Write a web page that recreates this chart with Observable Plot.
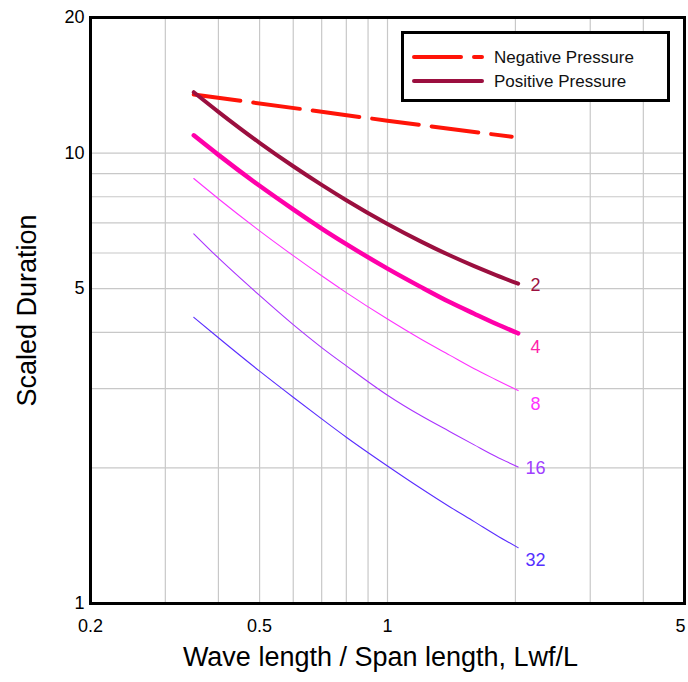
<!DOCTYPE html>
<html><head><meta charset="utf-8">
<script src="https://cdn.jsdelivr.net/npm/d3@7"></script>
<script src="https://cdn.jsdelivr.net/npm/@observablehq/plot@0.6"></script>
<style>
body{margin:0;background:#fff;font-family:"Liberation Sans",Arial,sans-serif;}
#wrap{position:relative;width:688px;height:682px;}
#legend{position:absolute;left:401px;top:31px;width:263px;height:65px;border:3px solid #000;background:#fff;}
#legend svg{display:block}
</style></head><body><div id="wrap"></div>
<script>
// x values along each curve (Lwf/L)
const xs = [0.35, 0.4, 0.5, 0.6, 0.7, 0.8, 1.0, 1.2, 1.4, 1.6, 1.8, 2.03];
// Positive pressure curves, scaled duration, labelled by ratio
const pos2  = [13.65, 12.35, 10.54, 9.35, 8.50, 7.86, 6.96, 6.36, 5.93, 5.61, 5.36, 5.13];
const pos4  = [10.95, 9.91, 8.46, 7.50, 6.80, 6.28, 5.54, 5.04, 4.67, 4.40, 4.18, 3.98];
const pos8  = [8.78, 7.92, 6.72, 5.92, 5.34, 4.90, 4.28, 3.86, 3.56, 3.32, 3.14, 2.97];
const pos16 = [6.62, 5.85, 4.83, 4.16, 3.70, 3.37, 2.90, 2.61, 2.41, 2.25, 2.12, 2.01];
const pos32 = [4.32, 3.89, 3.28, 2.87, 2.57, 2.34, 2.02, 1.80, 1.64, 1.52, 1.42, 1.33];
// Negative pressure
const negX = [0.35, 1.0, 1.96];
const negY = [13.49, 11.8, 10.87];
// Curve end labels
const curveNames = ["2", "4", "8", "16", "32"];
const labelX = 2.23;
const labelY = [5.1, 3.7, 2.77, 2.0, 1.25];
// Axis ticks and grid
const xTicks = [0.2, 0.5, 1];
const xTickLast = [5];
const yTicks = [1, 5, 10, 20];
const xGrid = [0.3, 0.4, 0.5, 0.6, 0.7, 0.8, 0.9, 1, 2, 3, 4];
const yGrid = [2, 3, 4, 5, 6, 7, 8, 9, 10];

const series = [pos2, pos4, pos8, pos16, pos32];
const colors = ["#9b0f3f", "#ff00aa", "#ff33ff", "#aa33ff", "#5a2dff"];
const labelColors = ["#9b1040", "#ff22aa", "#ff33ff", "#a040ff", "#5530ff"];
const widths = [4, 4.5, 1.1, 1.1, 1.1];

const toRows = (ys) => xs.map((x, i) => ({x, y: ys[i]}));
const negRows = negX.map((x, i) => ({x, y: negY[i]}));
const labelRows = curveNames.map((t, i) => ({x: labelX, y: labelY[i], t, c: labelColors[i]}));

const font = "'Liberation Sans', Arial, sans-serif";

const marks = [
  Plot.ruleX(xGrid, {stroke: "#c8c8c8", strokeWidth: 1.2}),
  Plot.ruleY(yGrid, {stroke: "#c8c8c8", strokeWidth: 1.2}),
  Plot.line(negRows, {x: "x", y: "y", stroke: "#ff1408", strokeWidth: 4, strokeDasharray: "47,13"}),
  ...series.slice().reverse().map((s, k) => {
    const i = series.length - 1 - k;
    return Plot.line(toRows(s), {x: "x", y: "y", stroke: colors[i], strokeWidth: widths[i], curve: "monotone-x", strokeLinecap: "round"});
  }),
  Plot.text(labelRows, {x: "x", y: "y", text: "t", fill: "c", fontSize: 18}),
  Plot.frame({stroke: "#000", strokeWidth: 3}),
  Plot.axisX(xTicks, {tickSize: 0, tickPadding: 16, fontSize: 18, label: null, tickFormat: d => String(d)}),
  Plot.axisX(xTickLast, {tickSize: 0, tickPadding: 16, fontSize: 18, label: null, dx: -4, tickFormat: d => String(d)}),
  Plot.axisY(yTicks, {tickSize: 0, tickPadding: 6, fontSize: 18, label: null, tickFormat: d => String(d)}),
  Plot.text(["Wave length / Span length, Lwf/L"], {frameAnchor: "bottom", dy: 54, dx: -7, fontSize: 27, textAnchor: "middle", lineAnchor: "middle"}),
  Plot.text(["Scaled Duration"], {frameAnchor: "left", dx: -63, rotate: -90, fontSize: 27, textAnchor: "middle", lineAnchor: "middle"})
];

const chart = Plot.plot({
  width: 688,
  height: 682,
  marginLeft: 90,
  marginRight: 4,
  marginTop: 17,
  marginBottom: 79,
  style: {fontFamily: font, color: "#000", background: "#fff", overflow: "visible"},
  x: {type: "log", domain: [0.2, 5]},
  y: {type: "log", domain: [1, 20]},
  color: {type: "identity"},
  marks
});
const wrap = document.getElementById("wrap");
wrap.appendChild(chart);

// Legend box (inside the plot frame)
const leg = document.createElement("div");
leg.id = "legend";
const entries = [
  {name: "Negative Pressure", color: "#ff1408", width: 4, dash: "47,13", y: 23},
  {name: "Positive Pressure", color: "#9b0f3f", width: 4, dash: null, y: 47}
];
let svg = `<svg width="263" height="65" xmlns="http://www.w3.org/2000/svg">`;
for (const e of entries) {
  svg += `<line x1="10" x2="78" y1="${e.y}" y2="${e.y}" stroke="${e.color}" stroke-width="${e.width}"${e.dash ? ` stroke-dasharray="${e.dash}"` : ""} stroke-linecap="round"/>`;
  svg += `<text x="90" y="${e.y}" dy="0.35em" font-size="17" font-family="${font.replace(/'/g, "")}" fill="#111">${e.name}</text>`;
}
svg += `</svg>`;
leg.innerHTML = svg;
wrap.appendChild(leg);
</script>
</body></html>
